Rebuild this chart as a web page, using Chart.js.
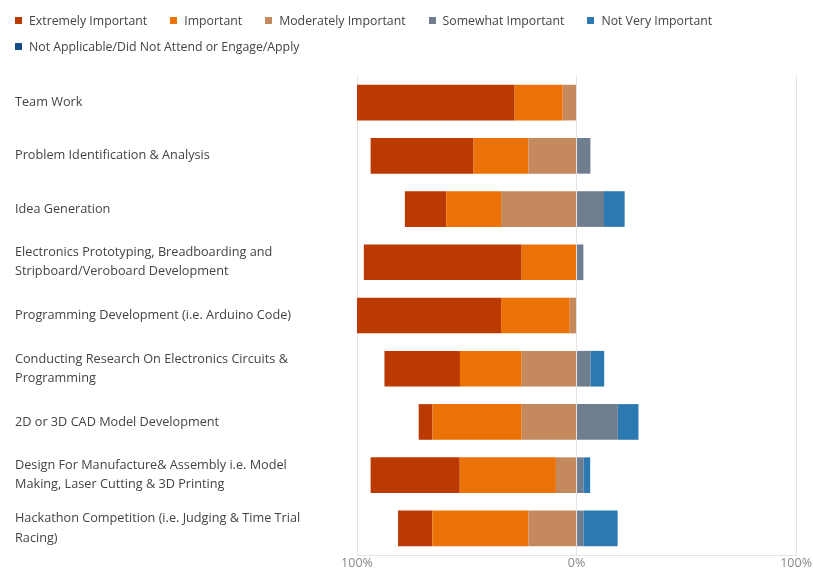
<!DOCTYPE html>
<html>
<head>
<meta charset="utf-8">
<script src="https://cdn.jsdelivr.net/npm/chart.js@4"></script>
<style>
  body { margin: 0; background: #fff; }
  #wrap { position: relative; width: 813px; height: 572px; }
  #legend { position: absolute; top: 7px; left: 15px; right: 0; }
  #legend ul { list-style: none; margin: 0; padding: 0; display: flex; flex-wrap: wrap; }
  #legend li { display: flex; align-items: center; height: 26px; margin-right: 23px;
    font: 12.3px 'Open Sans', sans-serif; color: #444; white-space: nowrap; }
  #legend .box { display: inline-block; width: 7px; height: 7px; margin-right: 7px; }
</style>
</head>
<body>
<div id="wrap">
  <div id="legend"></div>
  <canvas id="myChart" width="813" height="572"></canvas>
</div>
<script>
const categories = [
  ['Team Work'],
  ['Problem Identification & Analysis'],
  ['Idea Generation'],
  ['Electronics Prototyping, Breadboarding and', 'Stripboard/Veroboard Development'],
  ['Programming Development (i.e. Arduino Code)'],
  ['Conducting Research On Electronics Circuits &', 'Programming'],
  ['2D or 3D CAD Model Development'],
  ['Design For Manufacture& Assembly i.e. Model', 'Making, Laser Cutting & 3D Printing'],
  ['Hackathon Competition (i.e. Judging & Time Trial', 'Racing)']
];

// percentages of respondents
const extremely     = [71.9, 46.9, 18.8, 71.9, 65.6, 34.4, 6.3, 40.6, 15.6];
const important     = [21.9, 25.0, 25.0, 25.0, 31.3, 28.1, 40.6, 43.8, 43.8];
const moderately    = [6.3, 21.9, 34.4, 0, 3.1, 25.0, 25.0, 9.4, 21.9];
const somewhat      = [0, 6.3, 12.5, 3.1, 0, 6.3, 18.8, 3.1, 3.1];
const notVery       = [0, 0, 9.4, 0, 0, 6.3, 9.4, 3.1, 15.6];
const notApplicable = [0, 0, 0, 0, 0, 0, 0, 0, 0];

const axisTicks = [-100, 0, 100];

const neg = arr => arr.map(v => -v);

// legend drawn as html, built from chart.js legend items
const htmlLegend = {
  id: 'htmlLegend',
  afterUpdate(chart) {
    const box = document.getElementById('legend');
    box.innerHTML = '';
    const ul = document.createElement('ul');
    const items = chart.options.plugins.legend.labels.generateLabels(chart)
      .sort((a, b) => a.datasetIndex - b.datasetIndex);
    items.forEach(item => {
      const li = document.createElement('li');
      const sq = document.createElement('span');
      sq.className = 'box';
      sq.style.background = item.fillStyle;
      li.appendChild(sq);
      li.appendChild(document.createTextNode(item.text));
      ul.appendChild(li);
    });
    box.appendChild(ul);
  }
};

const ctx = document.getElementById('myChart');

new Chart(ctx, {
  type: 'bar',
  data: {
    labels: categories,
    datasets: [
      { label: 'Extremely Important', data: neg(extremely), backgroundColor: '#BB3A02', order: 2 },
      { label: 'Important', data: neg(important), backgroundColor: '#EC7208', order: 1 },
      { label: 'Moderately Important', data: neg(moderately), backgroundColor: '#C4895D', order: 0 },
      { label: 'Somewhat Important', data: somewhat, backgroundColor: '#6F7E8E', order: 3 },
      { label: 'Not Very Important', data: notVery, backgroundColor: '#2B79B0', order: 4 },
      { label: 'Not Applicable/Did Not Attend or Engage/Apply', data: notApplicable, backgroundColor: '#164E84', order: 5 }
    ]
  },
  options: {
    indexAxis: 'y',
    responsive: false,
    animation: false,
    barPercentage: 0.67,
    categoryPercentage: 1,
    borderWidth: 0,
    layout: {
      padding: { top: 76, left: 15, right: 0, bottom: 0 }
    },
    scales: {
      x: {
        stacked: true,
        min: -100,
        max: 100,
        afterBuildTicks: scale => {
          scale.ticks = axisTicks.map(v => ({ value: v }));
        },
        ticks: {
          callback: v => Math.abs(v) + '%',
          color: '#888',
          padding: 1,
          font: { family: "'Open Sans', sans-serif", size: 12.5 }
        },
        grid: {
          color: '#e4e4e4',
          drawTicks: false
        },
        border: {
          color: '#e4e4e4'
        }
      },
      y: {
        stacked: true,
        afterFit: scale => { scale.width = 342; },
        ticks: {
          crossAlign: 'far',
          autoSkip: false,
          color: '#444',
          font: { family: "'Open Sans', sans-serif", size: 12.7, lineHeight: 1.5 }
        },
        grid: {
          display: false
        },
        border: {
          display: false
        }
      }
    },
    plugins: {
      legend: {
        display: false
      },
      tooltip: {
        enabled: false
      }
    }
  },
  plugins: [htmlLegend]
});
</script>
</body>
</html>
